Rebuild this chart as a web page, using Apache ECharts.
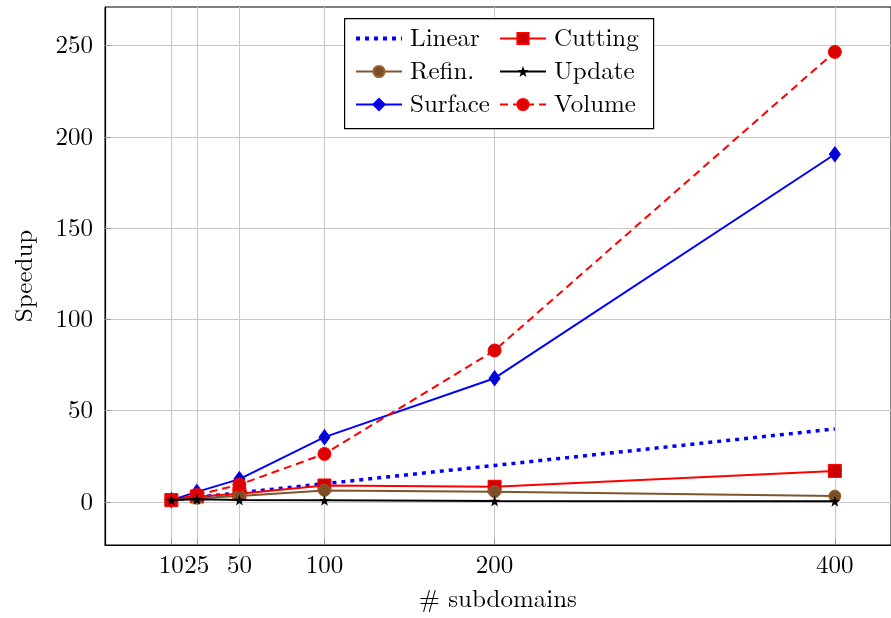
<!DOCTYPE html>
<html>
<head>
<meta charset="utf-8">
<script src="https://cdn.jsdelivr.net/npm/echarts@6/dist/echarts.min.js"></script>
<style>html,body{margin:0;padding:0;background:#fff}#c{width:891px;height:618px}</style>
</head>
<body>
<div id="c"></div>
<script>
const xValues = [10, 25, 50, 100, 200, 400];
const xTicks = [10, 25, 50, 100, 200, 400];
const yTicks = [0, 50, 100, 150, 200, 250];
const linear = [1, 2.5, 5, 10, 20, 40];
const cutting = [1, 3, 4.5, 9, 8.3, 17];
const refin = [1, 2, 3.3, 6.3, 5.6, 3.2];
const update = [1, 1.5, 1, 0.9, 0.5, 0.4];
const surface = [1, 5.5, 12.5, 35.5, 67.8, 190.5];
const volume = [1, 3.8, 9.5, 26.3, 83, 246.6];

const FONT = "'Latin Modern Roman','CMU Serif','Liberation Serif','DejaVu Serif',serif";
const pair = arr => xValues.map((x, i) => [x, arr[i]]);
const star = 'path://M0,-10L2.35,-3.24L9.51,-3.09L3.8,1.24L5.88,8.09L0,4L-5.88,8.09L-3.8,1.24L-9.51,-3.09L-2.35,-3.24Z';

const legendText = {fontFamily: FONT, fontSize: 25, color: '#000', padding: [0, 0, 0, 3]};

const chart = echarts.init(document.getElementById('c'), null, {renderer: 'canvas'});
chart.setOption({
  animation: false,
  backgroundColor: '#fff',
  textStyle: {fontFamily: FONT},
  grid: {left: 105, top: 7, right: 0, bottom: 73, show: true, borderColor: '#000', borderWidth: 1, backgroundColor: 'transparent'},
  xAxis: {
    type: 'value', min: -29, max: 433,
    name: '# subdomains', nameLocation: 'middle', nameGap: 42,
    nameTextStyle: {fontFamily: FONT, fontSize: 25, color: '#000'},
    axisLine: {show: true, onZero: false, lineStyle: {color: '#000', width: 1.2}},
    axisTick: {show: true, inside: true, length: 6, customValues: xTicks, lineStyle: {color: '#999'}},
    axisLabel: {customValues: xTicks, margin: 8, fontFamily: FONT, fontSize: 25, color: '#000', hideOverlap: false},
    splitLine: {show: true, lineStyle: {color: '#c8c8c8', width: 1}}
  },
  yAxis: {
    type: 'value', min: -23.6, max: 271.2,
    name: 'Speedup', nameLocation: 'middle', nameGap: 68,
    nameTextStyle: {fontFamily: FONT, fontSize: 25, color: '#000'},
    axisLine: {show: true, onZero: false, lineStyle: {color: '#000', width: 1.2}},
    axisTick: {show: true, inside: true, length: 6, customValues: yTicks, lineStyle: {color: '#999'}},
    axisLabel: {customValues: yTicks, margin: 12, fontFamily: FONT, fontSize: 25, color: '#000'},
    splitLine: {show: true, lineStyle: {color: '#c8c8c8', width: 1}}
  },
  graphic: [{
    type: 'rect', left: 344, top: 18, z: 10,
    shape: {width: 309, height: 110},
    style: {fill: '#fff', stroke: '#000', lineWidth: 1.2}
  }],
  legend: [{
    z: 20, left: 354, top: 26, padding: 0, orient: 'vertical', itemWidth: 46, itemHeight: 14, itemGap: 8,
    data: [{name: 'Linear', itemStyle: {opacity: 0}, lineStyle: {width: 4, type: [4, 5], cap: 'butt'}}, 'Refin.', 'Surface'],
    textStyle: legendText
  }, {
    z: 20, left: 499, top: 26, padding: 0, orient: 'vertical', itemWidth: 46, itemHeight: 14, itemGap: 8,
    data: ['Cutting', 'Update', 'Volume'],
    textStyle: legendText
  }],
  series: [
    {name: 'Linear', type: 'line', data: pair(linear), showSymbol: false, symbol: 'none',
     lineStyle: {color: '#0000ff', width: 3.5, type: [4, 5], cap: 'butt'}, itemStyle: {color: '#0000ff'}, z: 3},
    {name: 'Cutting', type: 'line', data: pair(cutting), symbol: 'rect', symbolSize: 13,
     lineStyle: {color: '#ff0000', width: 2}, itemStyle: {color: '#cc0000', borderColor: '#ff0000', borderWidth: 1}, z: 4},
    {name: 'Refin.', type: 'line', data: pair(refin), symbol: 'circle', symbolSize: 12,
     lineStyle: {color: '#7f552b', width: 2}, itemStyle: {color: '#7a4f26', borderColor: '#996633', borderWidth: 1}, z: 4},
    {name: 'Update', type: 'line', data: pair(update), symbol: star, symbolSize: 11,
     lineStyle: {color: '#000', width: 2}, itemStyle: {color: '#000'}, z: 5},
    {name: 'Surface', type: 'line', data: pair(surface), symbol: 'diamond', symbolSize: [11, 15],
     lineStyle: {color: '#0000ff', width: 2}, itemStyle: {color: '#0000cc', borderColor: '#0000ff', borderWidth: 1}, z: 4},
    {name: 'Volume', type: 'line', data: pair(volume), symbol: 'circle', symbolSize: 13,
     lineStyle: {color: '#ff0000', width: 2, type: [8, 5]}, itemStyle: {color: '#dd0000', borderColor: '#ff0000', borderWidth: 1}, z: 4}
  ]
});
</script>
</body>
</html>
